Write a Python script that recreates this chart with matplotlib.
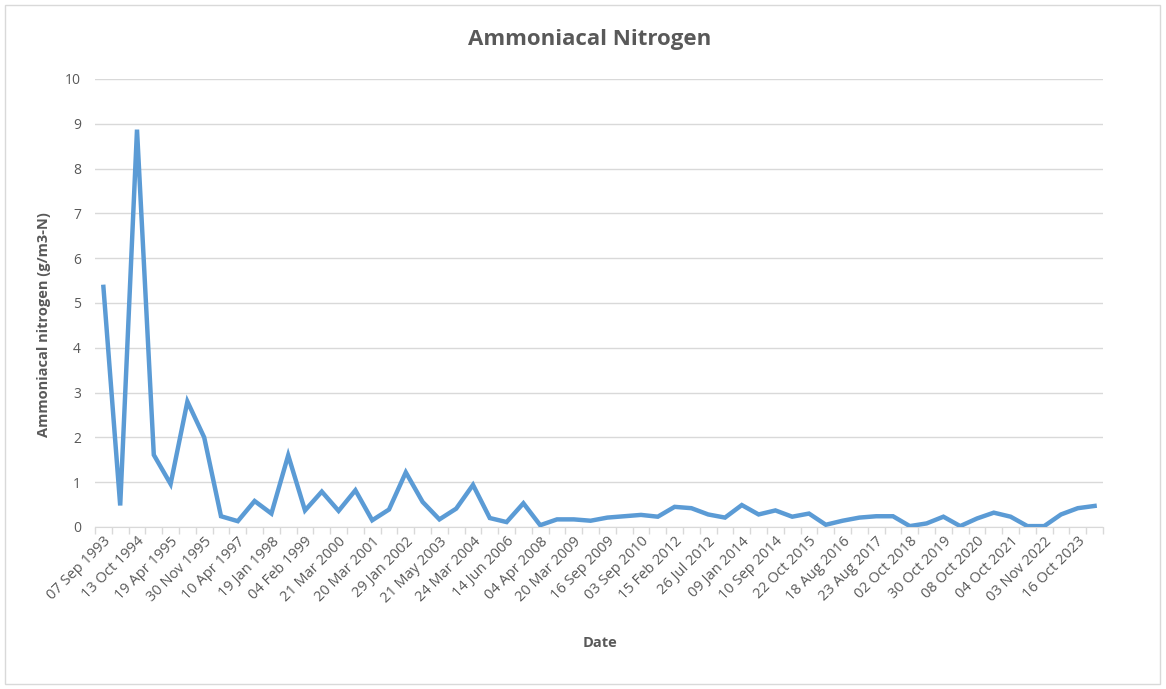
import matplotlib
matplotlib.use("Agg")
import matplotlib.pyplot as plt
from matplotlib.patches import Rectangle
import numpy as np

plt.rcParams['font.family'] = ['Open Sans', 'DejaVu Sans']

values = [5.36, 0.48, 8.87, 1.61, 0.96, 2.80, 2.00, 0.24, 0.13, 0.58,
          0.30, 1.60, 0.37, 0.79, 0.36, 0.82, 0.15, 0.39, 1.22, 0.56,
          0.17, 0.41, 0.94, 0.20, 0.11, 0.53, 0.04, 0.17, 0.17, 0.14,
          0.21, 0.24, 0.27, 0.23, 0.45, 0.42, 0.28, 0.21, 0.49, 0.28,
          0.37, 0.23, 0.30, 0.05, 0.14, 0.21, 0.24, 0.24, 0.02, 0.08,
          0.23, 0.02, 0.19, 0.32, 0.23, 0.02, 0.02, 0.28, 0.42, 0.47]

tick_labels = ["07 Sep 1993", "13 Oct 1994", "19 Apr 1995", "30 Nov 1995",
               "10 Apr 1997", "19 Jan 1998", "04 Feb 1999", "21 Mar 2000",
               "20 Mar 2001", "29 Jan 2002", "21 May 2003", "24 Mar 2004",
               "14 Jun 2006", "04 Apr 2008", "20 Mar 2009", "16 Sep 2009",
               "03 Sep 2010", "15 Feb 2012", "26 Jul 2012", "09 Jan 2014",
               "10 Sep 2014", "22 Oct 2015", "18 Aug 2016", "23 Aug 2017",
               "02 Oct 2018", "30 Oct 2019", "08 Oct 2020", "04 Oct 2021",
               "03 Nov 2022", "16 Oct 2023"]

title = "Ammoniacal Nitrogen"
xlabel = "Date"
ylabel = "Ammoniacal nitrogen (g/m3-N)"

W, H = 1166, 689
fig = plt.figure(figsize=(W / 100, H / 100), dpi=100)
left, right, top, bottom = 95, 1103, 79, 527
ax = fig.add_axes([left / W, 1 - bottom / H, (right - left) / W, (bottom - top) / H])

text_col = '#595959'
n = len(values)
x = np.arange(n)
ax.plot(x, values, color='#5B9BD5', lw=3.2, solid_joinstyle='miter', zorder=3)

ax.set_xlim(-0.5, n - 0.5)
ax.set_ylim(0, 10)
ax.set_yticks(np.arange(0, 11, 1))
ax.grid(axis='y', color='#d9d9d9', lw=1)
ax.set_axisbelow(True)

ax.set_xticks(x[::2])
ax.set_xticklabels(tick_labels, rotation=45, ha='right', va='top',
                   rotation_mode='anchor', fontsize=10.5, color=text_col)
ax.tick_params(axis='x', which='major', length=0, pad=5)
ax.set_xticks(np.arange(-0.5, n, 1), minor=True)
ax.tick_params(axis='x', which='minor', length=5, color='#d9d9d9', width=1)
ax.tick_params(axis='y', length=0, labelsize=10, labelcolor=text_col, pad=10)

for s in ['top', 'right', 'left']:
    ax.spines[s].set_visible(False)
ax.spines['bottom'].set_color('#d9d9d9')

fig.text(590 / W, 1 - 40 / H, title, ha='center', va='center',
         fontsize=16, fontweight='bold', color=text_col)
fig.text(600 / W, 1 - 643 / H, xlabel, ha='center', va='center',
         fontsize=10.5, fontweight='bold', color=text_col)
fig.text(44 / W, 1 - 325 / H, ylabel, ha='center', va='center', rotation=90,
         fontsize=10.5, fontweight='bold', color=text_col)

fig.patches.append(Rectangle((5 / W, 5 / H), 1155 / W, 679 / H, transform=fig.transFigure,
                             fill=False, edgecolor='#d9d9d9', lw=1))

fig.savefig('out.png', dpi=100)
